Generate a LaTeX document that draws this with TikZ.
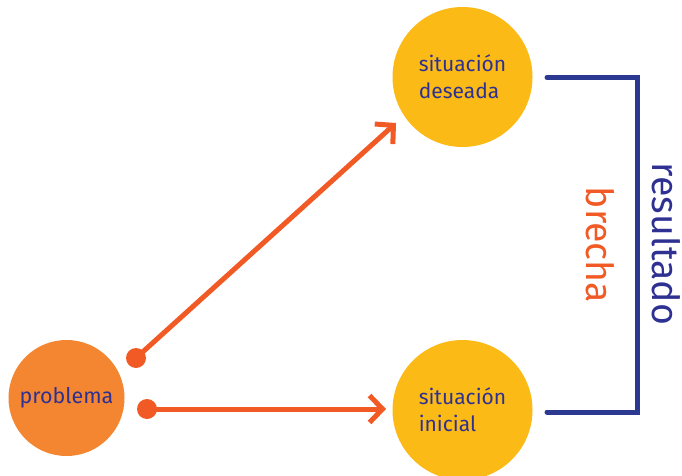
\documentclass[tikz,border=0pt]{standalone}
\usepackage{fontspec}
\setmainfont{Fira Sans}
\usetikzlibrary{arrows.meta}
\definecolor{sunY}{HTML}{FBBA16}
\definecolor{probO}{HTML}{F48632}
\definecolor{arrO}{HTML}{F15A24}
\definecolor{inkB}{HTML}{2E3192}
\definecolor{brB}{HTML}{2B3990}
\begin{document}
\begin{tikzpicture}[x=1pt,y=-1pt,
  bigc/.style={circle,fill=sunY,minimum size=140pt,inner sep=0pt,text=inkB,font=\fontsize{21}{27}\selectfont,align=left},
  probc/.style={circle,fill=probO,minimum size=116pt,inner sep=0pt,text=inkB,font=\fontsize{21.5}{27}\selectfont},
  dotn/.style={circle,fill=arrO,minimum size=20pt,inner sep=0pt},
  arr/.style={draw=arrO,line width=5pt,-{Straight Barb[length=13pt,width=27pt,line width=5pt]}},
  brk/.style={draw=brB,line width=5pt,line cap=round},
  side/.style={rotate=-90,font=\fontsize{37.5}{37.5}\selectfont}]
\useasboundingbox (0,0) rectangle (682,476);
\node[bigc] (des) at (462.5,77) {situación\\deseada};
\node[bigc] (ini) at (462.5,410) {situación\\inicial};
\node[probc] (prob) at (66.5,398) {problema};
\node[dotn] (d1) at (136,358) {};
\node[dotn] (d2) at (147,409) {};
\coordinate (t1) at (396,123);
\coordinate (t2) at (386,409);
\draw[arr] (d1.center) -- (t1);
\draw[arr] (d2.center) -- (t2);
\coordinate (b1) at (547,77.5);
\coordinate (b2) at (547,412);
\draw[brk] (b1) -- (637,77.5) -- (637,412) -- (b2);
\node[side,text=inkB] (res) at (666,244) {resultado};
\node[side,text=arrO] (bre) at (600,245) {brecha};
\end{tikzpicture}
\end{document}
